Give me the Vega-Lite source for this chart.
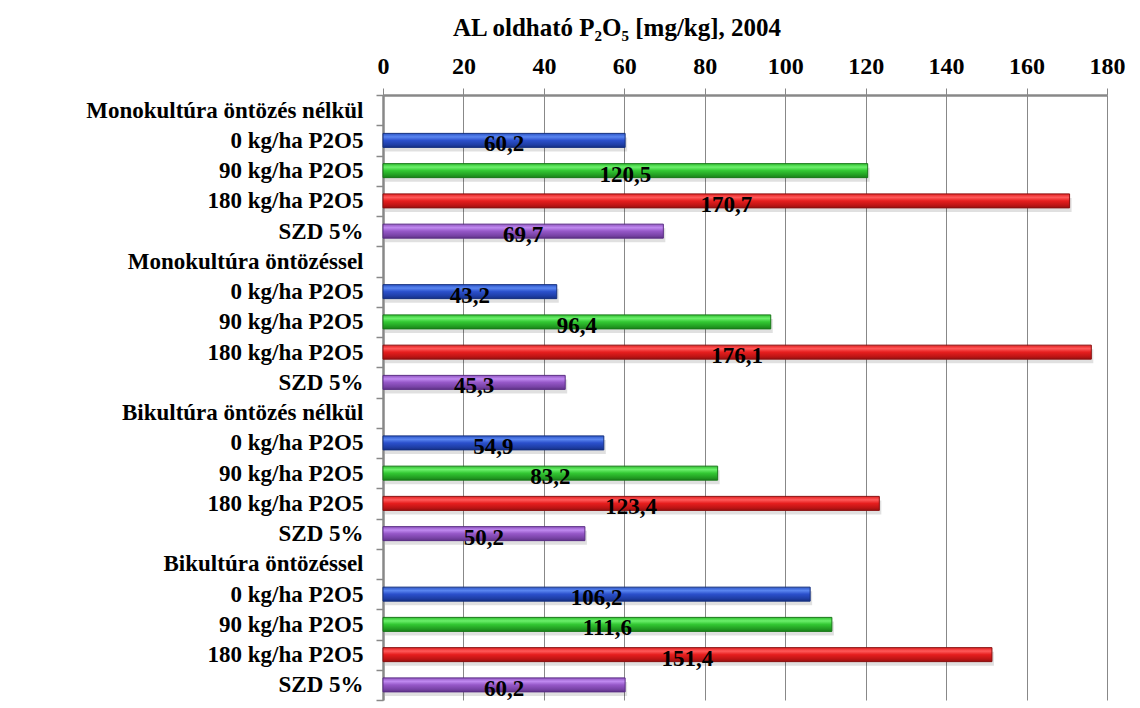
{
  "$schema": "https://vega.github.io/schema/vega-lite/v6.json",
  "width": 724,
  "height": 605,
  "autosize": {"type": "none"},
  "padding": {"left": 383, "top": 95, "right": 33, "bottom": 8},
  "background": "white",
  "title": {
    "text": "AL oldható P₂O₅ [mg/kg], 2004",
    "font": "Liberation Serif",
    "fontSize": 25,
    "fontWeight": "bold",
    "color": "#000",
    "anchor": "middle",
    "dx": -128,
    "offset": 13
  },
  "config": {
    "view": {"stroke": null},
    "locale": {"number": {"decimal": ",", "thousands": " ", "grouping": [3], "currency": ["", ""]}}
  },
  "data": {
    "values": [
      {"r": "01|Monokultúra öntözés nélkül", "s": "h", "v": null},
      {"r": "02|0 kg/ha P2O5", "s": "0", "v": 60.2},
      {"r": "03|90 kg/ha P2O5", "s": "90", "v": 120.5},
      {"r": "04|180 kg/ha P2O5", "s": "180", "v": 170.7},
      {"r": "05|SZD 5%", "s": "szd", "v": 69.7},
      {"r": "06|Monokultúra öntözéssel", "s": "h", "v": null},
      {"r": "07|0 kg/ha P2O5", "s": "0", "v": 43.2},
      {"r": "08|90 kg/ha P2O5", "s": "90", "v": 96.4},
      {"r": "09|180 kg/ha P2O5", "s": "180", "v": 176.1},
      {"r": "10|SZD 5%", "s": "szd", "v": 45.3},
      {"r": "11|Bikultúra öntözés nélkül", "s": "h", "v": null},
      {"r": "12|0 kg/ha P2O5", "s": "0", "v": 54.9},
      {"r": "13|90 kg/ha P2O5", "s": "90", "v": 83.2},
      {"r": "14|180 kg/ha P2O5", "s": "180", "v": 123.4},
      {"r": "15|SZD 5%", "s": "szd", "v": 50.2},
      {"r": "16|Bikultúra öntözéssel", "s": "h", "v": null},
      {"r": "17|0 kg/ha P2O5", "s": "0", "v": 106.2},
      {"r": "18|90 kg/ha P2O5", "s": "90", "v": 111.6},
      {"r": "19|180 kg/ha P2O5", "s": "180", "v": 151.4},
      {"r": "20|SZD 5%", "s": "szd", "v": 60.2}
    ]
  },
  "encoding": {
    "y": {
      "field": "r",
      "type": "nominal",
      "sort": "ascending",
      "axis": {
        "title": null,
        "orient": "left",
        "labelExpr": "split(datum.label, '|')[1]",
        "labelFont": "Liberation Serif",
        "labelFontSize": 23,
        "labelFontWeight": "bold",
        "labelColor": "#000",
        "labelPadding": 13,
        "labelLimit": 400,
        "tickBand": "extent",
        "tickSize": 7,
        "tickColor": "#888",
        "tickWidth": 1.5,
        "domainColor": "#888",
        "domainWidth": 2.5,
        "grid": false
      }
    }
  },
  "layer": [
    {
      "layer": [
        {"mark": {"type": "text", "text": ""}},
        {
          "transform": [{"filter": "datum.s != 'h'"}],
          "mark": {"type": "bar", "size": 14, "color": "#000", "opacity": 0.12, "yOffset": 4, "xOffset": 2},
          "encoding": {
            "x": {
              "field": "v",
              "type": "quantitative",
              "scale": {"domain": [0, 180], "nice": false},
              "axis": {
                "orient": "top",
                "title": null,
                "values": [0, 20, 40, 60, 80, 100, 120, 140, 160, 180],
                "format": "d",
                "labelFlush": false,
                "labelFont": "Liberation Serif",
                "labelFontSize": 24,
                "labelFontWeight": "bold",
                "labelColor": "#000",
                "labelPadding": 10,
                "tickSize": 7,
                "tickColor": "#888",
                "grid": true,
                "gridColor": "#888",
                "gridWidth": 1,
                "gridOpacity": 1,
                "domainColor": "#888",
                "domainWidth": 2.5
              }
            }
          }
        },
        {
          "transform": [{"filter": "datum.s == '0'"}],
          "mark": {
            "type": "bar", "size": 14, "stroke": "#15307f", "strokeWidth": 1,
            "color": {"gradient": "linear", "x1": 0, "y1": 0, "x2": 0, "y2": 1,
              "stops": [{"offset": 0, "color": "#2c55c8"}, {"offset": 0.25, "color": "#5a86f0"}, {"offset": 0.5, "color": "#2b50cc"}, {"offset": 0.8, "color": "#1f3fa8"}, {"offset": 1, "color": "#162f85"}]}
          },
          "encoding": {"x": {"field": "v", "type": "quantitative"}}
        },
        {
          "transform": [{"filter": "datum.s == '90'"}],
          "mark": {
            "type": "bar", "size": 14, "stroke": "#187818", "strokeWidth": 1,
            "color": {"gradient": "linear", "x1": 0, "y1": 0, "x2": 0, "y2": 1,
              "stops": [{"offset": 0, "color": "#2fbf2f"}, {"offset": 0.25, "color": "#6cf06c"}, {"offset": 0.5, "color": "#33c833"}, {"offset": 0.8, "color": "#23a023"}, {"offset": 1, "color": "#1a801a"}]}
          },
          "encoding": {"x": {"field": "v", "type": "quantitative"}}
        },
        {
          "transform": [{"filter": "datum.s == '180'"}],
          "mark": {
            "type": "bar", "size": 14, "stroke": "#8a1010", "strokeWidth": 1,
            "color": {"gradient": "linear", "x1": 0, "y1": 0, "x2": 0, "y2": 1,
              "stops": [{"offset": 0, "color": "#e22020"}, {"offset": 0.25, "color": "#ff5a5a"}, {"offset": 0.5, "color": "#e61e1e"}, {"offset": 0.8, "color": "#c01515"}, {"offset": 1, "color": "#981010"}]}
          },
          "encoding": {"x": {"field": "v", "type": "quantitative"}}
        },
        {
          "transform": [{"filter": "datum.s == 'szd'"}],
          "mark": {
            "type": "bar", "size": 14, "stroke": "#5a2d85", "strokeWidth": 1,
            "color": {"gradient": "linear", "x1": 0, "y1": 0, "x2": 0, "y2": 1,
              "stops": [{"offset": 0, "color": "#9055c0"}, {"offset": 0.25, "color": "#c08af0"}, {"offset": 0.5, "color": "#9658c8"}, {"offset": 0.8, "color": "#7a44a8"}, {"offset": 1, "color": "#603488"}]}
          },
          "encoding": {"x": {"field": "v", "type": "quantitative"}}
        }
      ]
    },
    {
      "transform": [{"filter": "datum.s != 'h'"}],
      "mark": {"type": "text", "font": "Liberation Serif", "fontSize": 23, "fontWeight": "bold", "color": "#000", "align": "center", "baseline": "middle", "dy": 4},
      "encoding": {
        "x": {"field": "v", "type": "quantitative", "scale": {"domain": [0, 360], "nice": false}, "axis": null},
        "text": {"field": "v", "type": "quantitative", "format": ".1f"}
      }
    }
  ],
  "resolve": {"scale": {"x": "independent"}, "axis": {"x": "independent"}}
}
